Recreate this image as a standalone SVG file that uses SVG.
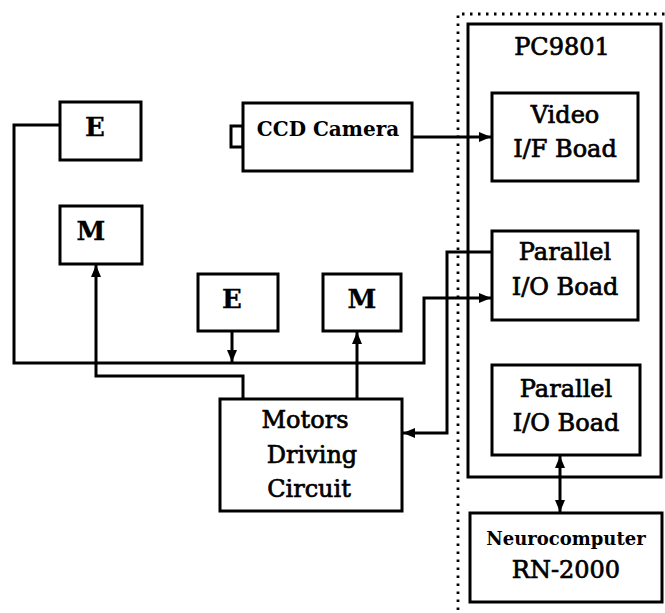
<svg xmlns="http://www.w3.org/2000/svg" width="665" height="613" viewBox="0 0 665 613">
<defs>
<style>
.box{fill:#fff;stroke:#000;stroke-width:3}
.wire{fill:none;stroke:#000;stroke-width:3}
.dot{fill:none;stroke:#000;stroke-width:2.8;stroke-dasharray:2.5 5.5}
text{font-family:"DejaVu Serif","Liberation Serif",serif;fill:#000;text-anchor:middle;stroke:#000;stroke-width:0.7}
.lbl{font-size:24px}
.big{font-size:26px;font-weight:bold;stroke-width:0.3}
.cam{font-size:20px;font-weight:bold;stroke-width:0}
.neu{font-size:18px;font-weight:bold;stroke-width:0}
</style>
<marker id="ah" viewBox="0 0 12 10" markerUnits="userSpaceOnUse" markerWidth="12" markerHeight="10" refX="12" refY="5" orient="auto-start-reverse">
<path d="M0,0 L12,5 L0,10 z" fill="#000"/>
</marker>
</defs>
<rect width="665" height="613" fill="#fff"/>
<g id="boundary">
<path class="dot" d="M458,610 V14 H665"/>
</g>
<g id="pc9801">
<rect class="box" x="468" y="24" width="193" height="453"/>
<text class="lbl" x="562" y="55">PC9801</text>
</g>
<g id="video-if">
<rect class="box" x="492" y="93" width="146" height="88"/>
<text class="lbl" x="565" y="123">Video</text>
<text class="lbl" x="565" y="157">I/F Boad</text>
</g>
<g id="parallel-io-1">
<rect class="box" x="492" y="231" width="146" height="89"/>
<text class="lbl" x="565" y="260">Parallel</text>
<text class="lbl" x="565" y="295">I/O Boad</text>
</g>
<g id="parallel-io-2">
<rect class="box" x="492" y="365" width="148" height="90"/>
<text class="lbl" x="566" y="397">Parallel</text>
<text class="lbl" x="566" y="431">I/O Boad</text>
</g>
<g id="neurocomputer">
<rect class="box" x="470" y="513" width="192" height="89"/>
<text class="neu" x="566" y="545">Neurocomputer</text>
<text class="lbl" x="566" y="578">RN-2000</text>
</g>
<g id="ccd-camera">
<rect class="box" x="231" y="126" width="12" height="21"/>
<rect class="box" x="243" y="103" width="169" height="68"/>
<text class="cam" x="328" y="136">CCD Camera</text>
</g>
<g id="encoder-1">
<rect class="box" x="60" y="102" width="81" height="58"/>
<text class="big" x="95" y="136">E</text>
</g>
<g id="motor-1">
<rect class="box" x="60" y="206" width="82" height="58"/>
<text class="big" x="91" y="240">M</text>
</g>
<g id="encoder-2">
<rect class="box" x="198" y="274" width="80" height="57"/>
<text class="big" x="232" y="308">E</text>
</g>
<g id="motor-2">
<rect class="box" x="323" y="274" width="78" height="57"/>
<text class="big" x="362" y="308">M</text>
</g>
<g id="motors-driving-circuit">
<rect class="box" x="220" y="399" width="182" height="112"/>
<text class="lbl" x="305" y="428">Motors</text>
<text class="lbl" x="312" y="463">Driving</text>
<text class="lbl" x="309" y="497">Circuit</text>
</g>
<g id="connectors">
<path class="wire" d="M60,125 H14 V363 H424 V298 H491" marker-end="url(#ah)"/>
<path class="wire" d="M492,252 H447 V433 H403" marker-end="url(#ah)"/>
<path class="wire" d="M232,331 V362" marker-end="url(#ah)"/>
<path class="wire" d="M357,399 V332" marker-end="url(#ah)"/>
<path class="wire" d="M243,399 V376 H96 V265" marker-end="url(#ah)"/>
<path class="wire" d="M412,137 H491" marker-end="url(#ah)"/>
<path class="wire" d="M560,456 V512" marker-start="url(#ah)" marker-end="url(#ah)"/>
</g>
</svg>
